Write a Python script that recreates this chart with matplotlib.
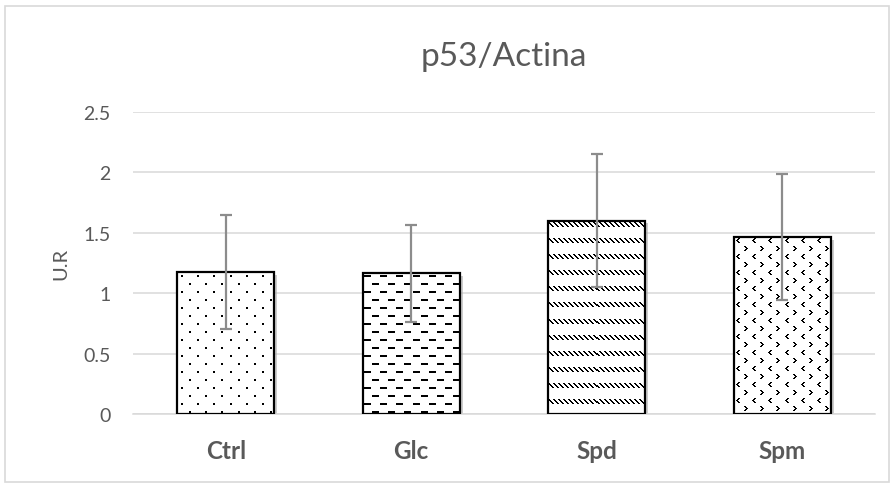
import numpy as np
import matplotlib
matplotlib.use('Agg')
import matplotlib.pyplot as plt
from matplotlib.patches import Rectangle
import matplotlib.patheffects as pe

categories = ['Ctrl', 'Glc', 'Spd', 'Spm']
values = [1.175, 1.165, 1.60, 1.465]
errors = [0.47, 0.40, 0.55, 0.52]
patterns = ['dots', 'dashes', 'diag', 'chevron']

plt.rcParams['font.family'] = ['Lato', 'DejaVu Sans']
grey = '#595959'

fig = plt.figure(figsize=(8.95, 4.85), dpi=100)
ax = fig.add_axes([133 / 895, 70 / 485, 742 / 895, 302 / 485])

# chart border like excel
fig.patches.append(Rectangle((5 / 895, 2 / 485), 884 / 895, 476 / 485,
                             transform=fig.transFigure, fill=False,
                             edgecolor='#d9d9d9', linewidth=1.2))

x = np.arange(len(categories))
ax.set_xlim(-0.5, 3.5)
ax.set_ylim(0, 2.5)
ax.set_yticks([0, 0.5, 1, 1.5, 2, 2.5])
ax.set_yticklabels(['0', '0.5', '1', '1.5', '2', '2.5'])
ax.grid(axis='y', color='#d9d9d9', linewidth=1.1)
ax.set_axisbelow(True)
for s in ['top', 'right', 'left']:
    ax.spines[s].set_visible(False)
ax.spines['bottom'].set_color('#d9d9d9')
ax.spines['bottom'].set_linewidth(1.1)
ax.tick_params(axis='y', length=0, pad=16, labelsize=14, labelcolor=grey)
ax.tick_params(axis='x', length=0, pad=18, labelsize=17.5, labelcolor=grey)
ax.set_xticks(x)
ax.set_xticklabels(categories, fontweight='bold')
ax.set_ylabel('U.R', color=grey, fontsize=14.5, labelpad=10)
ax.set_title('p53/Actina', color=grey, fontsize=24, pad=34)

# white body with a soft shadow, texture on top, black outline last
back = ax.bar(x, values, width=0.523, facecolor='white', edgecolor='none', zorder=1.9)
for b in back:
    b.set_path_effects([pe.SimplePatchShadow(offset=(2, -2), shadow_rgbFace='#aaaaaa', alpha=0.6),
                        pe.Normal()])
bars = ax.bar(x, values, width=0.523, facecolor='none', edgecolor='black',
              linewidth=1.6, zorder=3)

ax.errorbar(x, values, yerr=errors, fmt='none', ecolor='#8c8c8c',
            elinewidth=1.6, capsize=4, capthick=1.6, zorder=4)


def texture(w, h, kind):
    img = np.ones((h, w, 3))
    on = np.zeros((h, w), bool)
    if kind == 'dots':
        for r, y0 in enumerate(range(3, h, 8)):
            for x0 in range(4 + (r % 2) * 8, w, 16):
                on[y0:y0 + 2, x0:x0 + 2] = True
    elif kind == 'dashes':
        for r, y0 in enumerate(range(2, h, 8)):
            for x0 in range(1 + (r % 2) * 8, w, 16):
                on[y0:y0 + 2, x0:x0 + 7] = True
    elif kind == 'diag':
        for y0 in range(2, h, 16):
            for dy in range(5):
                yy = y0 + dy
                if yy >= h:
                    break
                for xx in range(w):
                    if (xx - dy) % 5 in (0, 1):
                        on[yy, xx] = True
    elif kind == 'chevron':
        lt = [(2, 0), (1, 1), (0, 2), (1, 3), (2, 4)]
        gt = [(0, 0), (1, 1), (2, 2), (1, 3), (0, 4)]
        for r, y0 in enumerate(range(1, h, 8)):
            shape = lt if r % 2 == 0 else gt
            for x0 in range(2 + (r % 2) * 8, w, 16):
                for dx, dy in shape:
                    for t in (0, 1):
                        if y0 + dy < h and x0 + dx + t < w:
                            on[y0 + dy, x0 + dx + t] = True
    img[on] = 0
    return img


fig.canvas.draw()
for b, kind in zip(bars, patterns):
    ext = b.get_window_extent()
    w = int(round(ext.width))
    h = int(round(ext.height))
    tex = texture(w, h, kind)
    im = ax.imshow(tex, extent=[b.get_x(), b.get_x() + b.get_width(), 0, b.get_height()],
                   interpolation='nearest', aspect='auto', zorder=2)
    im.set_clip_path(b)

ax.set_xlim(-0.5, 3.5)
ax.set_ylim(0, 2.5)

fig.savefig('out.png', dpi=100)
